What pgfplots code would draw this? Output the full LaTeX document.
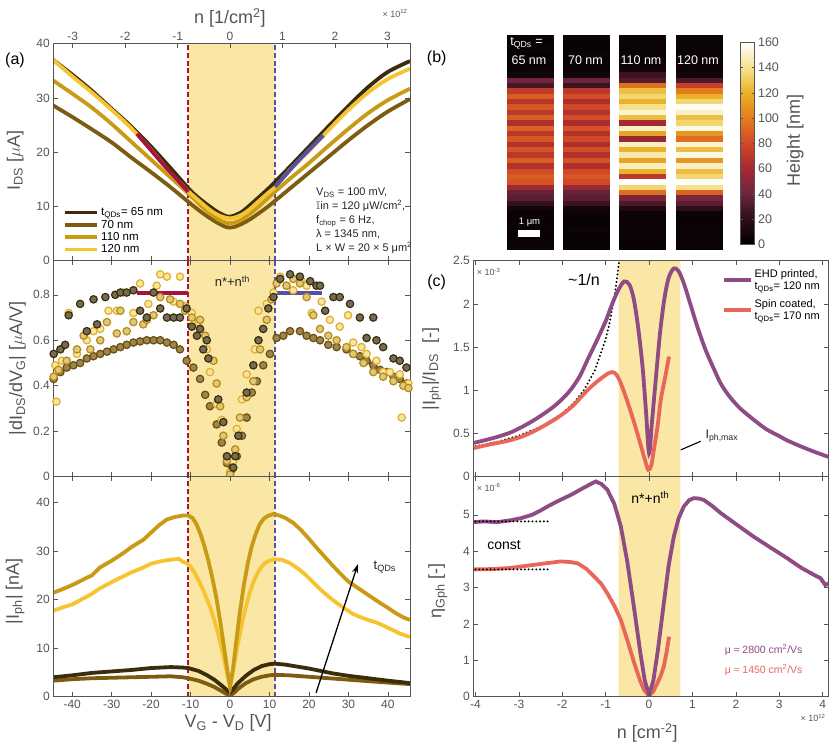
\documentclass[border=0pt]{standalone}
\usepackage{fontspec}
\setmainfont{Liberation Sans}
\usepackage{amssymb}
\usepackage{pgfplots}
\pgfplotsset{compat=1.18}
\usepackage{pgfplotstable}
\usetikzlibrary{arrows.meta}
\definecolor{cA}{HTML}{3B2D0C}
\definecolor{cB}{HTML}{7D5C12}
\definecolor{cC}{HTML}{C99A14}
\definecolor{cD}{HTML}{F7C431}
\definecolor{band}{HTML}{FAE7A5}
\definecolor{dred}{HTML}{A8123E}
\definecolor{dblue}{HTML}{5850A6}
\definecolor{ehd}{HTML}{8E4B84}
\definecolor{spin}{HTML}{E8675A}
\definecolor{axgray}{HTML}{555555}

\pgfplotsset{
  base/.style={
    scale only axis, anchor=south west, axis on top,
    axis line style={draw=axgray, line width=0.6pt},
    every tick/.style={draw=axgray, line width=0.6pt},
    major tick length=4.5pt, tick align=inside,
    tick label style={font=\fontsize{12}{13}\selectfont, text=axgray},
    label style={font=\fontsize{18}{20}\selectfont, text=axgray},
    /pgf/number format/assume math mode=true,
  },
  mk/.style 2 args={only marks, mark=*, mark size=3.7pt, mark options={draw=#1, fill=#2, line width=1.2pt}},
  ln/.style={line width=3.8pt, #1},
  vdash/.style={#1, line width=2.4pt, dash pattern=on 5pt off 2.8pt},
}

\pgfplotstableread{
r z1 z2 z3 z4
39 4 5 4 5
38 3 4 5 4
37 5 3 4 5
36 3 5 5 4
35 4 4 4 6
34 3 4 6 5
33 5 5 8 6
32 8 8 25 8
31 42 40 32 30
30 28 25 95 75
29 72 70 125 100
28 88 82 135 120
27 68 64 120 135
26 86 80 140 158
25 70 66 152 150
24 88 82 125 125
23 64 62 60 135
22 90 84 150 155
21 70 66 115 110
20 86 80 55 95
19 66 64 150 152
18 84 82 120 125
17 70 66 145 155
16 88 84 115 110
15 66 64 148 150
14 82 80 120 125
13 88 86 70 135
12 84 80 160 160
11 58 55 135 140
10 38 38 95 90
9 35 35 45 45
8 22 25 30 35
7 8 8 15 20
6 4 5 5 5
5 3 4 4 4
4 5 3 5 4
3 4 5 4 5
2 3 4 5 4
1 4 3 4 5
0 5 4 4 4
}\afm

\begin{document}
\begin{tikzpicture}
\useasboundingbox (0,0) rectangle (831pt,746pt);

% ================= (a) top: I_DS =================
\begin{axis}[base, at={(53.3pt,485.3pt)}, width=356.7pt, height=217pt,
  xmin=-44.8, xmax=45.6, ymin=0, ymax=40,
  xtick={-40,-30,...,40}, xticklabels={}, xtick pos=left,
  ytick={0,10,20,30,40},
  ylabel={I\textsubscript{DS} [$\mu$A]},
  ylabel style={at={(axis description cs:-0.107,0.46)}, anchor=center},
  legend style={at={(0.025,0.015)}, anchor=south west, draw=none, fill=none,
    font=\fontsize{11.5}{12}\selectfont, row sep=-1.2pt, inner sep=1pt},
  legend cell align=left,
  legend image code/.code={\draw[#1] (0pt,0pt) -- (32pt,0pt);},
]
\addplot[fill=band, draw=none, forget plot] coordinates {(-10.6,0) (11.4,0) (11.4,40) (-10.6,40)} \closedcycle;
\addplot[vdash=dred, forget plot] coordinates {(-10.6,0) (-10.6,40)};
\addplot[vdash=dblue, forget plot] coordinates {(11.4,0) (11.4,40)};
\addplot[ln=cA, smooth] coordinates {(-44.8,37.0) (-40,34.3) (-35,31.3) (-30,28.0) (-25,24.7) (-20,21.0) (-15,17.0) (-10,12.9) (-7,11.0) (-5,9.9) (-3,8.9) (-1,8.2) (0,8.1) (1,8.3) (3,9.0) (5,10.2) (7,11.5) (10,13.5) (15,17.2) (20,21.0) (25,24.8) (30,28.5) (35,32.0) (40,34.8) (45.6,36.8)};
\addplot[ln=cB, smooth] coordinates {(-44.8,28.6) (-40,26.5) (-35,24.2) (-30,21.8) (-25,19.0) (-20,16.3) (-15,13.5) (-10,10.5) (-7,8.8) (-5,7.8) (-3,6.9) (-1,6.2) (0,6.1) (1,6.2) (3,6.8) (5,7.6) (7,8.6) (10,10.2) (15,13.2) (20,16.2) (25,19.2) (30,22.2) (35,25.0) (40,27.5) (45.6,29.8)};
\addplot[ln=cC, smooth] coordinates {(-44.8,33.2) (-40,30.8) (-35,28.2) (-30,25.2) (-25,21.9) (-20,18.6) (-15,15.3) (-10,12.0) (-7,9.9) (-5,8.7) (-3,7.6) (-1,7.0) (0,6.9) (1,7.0) (3,7.6) (5,8.6) (7,9.8) (10,11.8) (15,15.0) (20,18.0) (25,21.2) (30,24.3) (35,27.2) (40,29.6) (45.6,31.7)};
\addplot[ln=cD, smooth] coordinates {(-44.8,37.0) (-40,34.0) (-35,31.0) (-30,27.8) (-25,24.4) (-20,20.4) (-15,16.1) (-11,13.1) (-10,12.4) (-7,10.5) (-5,9.3) (-3,8.4) (-1,7.9) (0,7.8) (1,7.9) (3,8.5) (5,9.5) (7,10.8) (10,12.7) (11.4,13.5) (15,16.6) (20,20.2) (25,24.1) (30,27.8) (35,31.0) (40,33.5) (45.6,35.4)};
\addplot[dred, line width=3.8pt, forget plot] coordinates {(-23.6,23.4) (-17,17.8) (-10.6,12.7)};
\addplot[dblue, line width=3.8pt, forget plot] coordinates {(11.4,13.6) (17,18.2) (23.6,23.1)};
\addlegendentry{t\textsubscript{QDs}= 65 nm}
\addlegendentry{70 nm}
\addlegendentry{110 nm}
\addlegendentry{120 nm}
\end{axis}
% top n axis
\begin{axis}[base, at={(53.3pt,485.3pt)}, width=356.7pt, height=217pt,
  xmin=-3.37, xmax=3.43, ymin=0, ymax=40,
  axis x line*=top, axis y line=none, tick align=inside,
  xtick={-3,-2,-1,0,1,2,3},
  xlabel={n [1/cm\textsuperscript{2}]},
  xlabel style={at={(axis description cs:0.495,1.118)}, anchor=center},
]
\addplot[draw=none] coordinates {(0,0)};
\end{axis}

% ================= (a) middle: dI/dV =================
\begin{axis}[base, at={(53.3pt,269.3pt)}, width=356.7pt, height=216pt,
  xmin=-44.8, xmax=45.6, ymin=0, ymax=0.95,
  xtick={-40,-30,...,40}, xticklabels={},
  ytick={0,0.2,0.4,0.6,0.8}, yticklabels={0,0.2,0.4,0.6,0.8},
  ylabel={|dI\textsubscript{DS}/dV\textsubscript{G}| [$\mu$A/V]},
  ylabel style={at={(axis description cs:-0.1,0.5)}, anchor=center},
]
\addplot[fill=band, draw=none] coordinates {(-10.6,0) (11.4,0) (11.4,0.95) (-10.6,0.95)} \closedcycle;
\addplot[vdash=dred] coordinates {(-10.6,0) (-10.6,0.95)};
\addplot[vdash=dblue] coordinates {(11.4,0) (11.4,0.95)};
\addplot[mk={cB!85!black}{cB!75!white}] coordinates {(-44.7,0.43) (-43.0,0.46) (-41.4,0.48) (-39.7,0.49) (-38.0,0.50) (-36.3,0.52) (-34.6,0.53) (-32.9,0.54) (-31.2,0.55) (-29.5,0.56) (-27.8,0.57) (-26.2,0.58) (-24.5,0.59) (-22.8,0.595) (-21.1,0.60) (-19.4,0.60) (-17.7,0.60) (-16.0,0.59) (-14.3,0.58) (-12.7,0.56) (-11.0,0.51) (-9.3,0.48) (-7.6,0.43) (-6.3,0.36) (-5.1,0.31) (-3.4,0.23) (-2.1,0.15) (-0.8,0.06) (0.4,0.03) (1.7,0.09) (3.0,0.18) (4.2,0.26) (5.5,0.37) (6.8,0.42) (8.4,0.49) (10.1,0.54) (11.8,0.61) (13.5,0.62) (15.2,0.64) (17.7,0.64) (19.4,0.62) (21.1,0.61) (22.8,0.60) (24.9,0.58) (27.0,0.57) (29.5,0.56) (31.2,0.54) (32.9,0.53) (34.6,0.51) (36.3,0.49) (38.0,0.47) (39.7,0.46) (41.4,0.44) (43.0,0.43) (44.7,0.41)};
\addplot[mk={cD!90!black}{cD!45!white}] coordinates {(-44.0,0.33) (-44.3,0.49) (-42.6,0.51) (-40.9,0.72) (-38.8,0.54) (-36.3,0.60) (-34.6,0.64) (-32.9,0.65) (-30.8,0.73) (-28.7,0.73) (-27.0,0.81) (-24.5,0.72) (-22.8,0.85) (-20.7,0.76) (-18.6,0.84) (-17.7,0.89) (-16.0,0.88) (-14.3,0.77) (-12.7,0.88) (-11.4,0.75) (-9.7,0.72) (-8.0,0.68) (-5.9,0.56) (-5.1,0.46) (-3.4,0.32) (-2.1,0.25) (-0.8,0.07) (0,0.02) (0.8,0.07) (1.7,0.21) (3.0,0.34) (4.2,0.45) (6.3,0.56) (7.2,0.73) (9.3,0.76) (11.0,0.81) (12.7,0.88) (14.3,0.84) (16.0,0.82) (18.1,0.86) (19.4,0.84) (20.7,0.72) (23.2,0.77) (25.3,0.69) (27.8,0.66) (29.9,0.71) (31.2,0.59) (33.3,0.57) (34.6,0.54) (37.1,0.51) (38.8,0.46) (40.5,0.46) (43.0,0.45) (43.5,0.26) (45.2,0.41)};
\addplot[mk={cC!90!black}{cC!55!white}] coordinates {(-44.7,0.44) (-43.5,0.47) (-41.4,0.51) (-38.8,0.56) (-37.1,0.62) (-35.4,0.56) (-32.9,0.60) (-31.2,0.68) (-28.7,0.63) (-27.8,0.73) (-26.2,0.64) (-24.5,0.68) (-22.0,0.67) (-21.1,0.69) (-19.4,0.71) (-17.7,0.79) (-15.2,0.78) (-12.7,0.76) (-11.4,0.73) (-9.7,0.70) (-7.6,0.69) (-6.3,0.62) (-4.2,0.51) (-3.4,0.41) (-2.5,0.31) (-1.7,0.18) (-0.8,0.07) (0,0.01) (1.3,0.12) (2.5,0.26) (4.2,0.35) (5.9,0.42) (7.6,0.56) (9.3,0.69) (10.5,0.78) (11.8,0.85) (14.3,0.84) (16.0,0.87) (17.7,0.85) (19.4,0.79) (21.1,0.71) (22.8,0.65) (24.9,0.62) (27.0,0.60) (29.5,0.57) (31.2,0.54) (33.8,0.50) (36.3,0.46) (38.8,0.44) (41.4,0.42) (43.9,0.40) (45.2,0.39)};
\addplot[mk={cA}{cA!70!white}] coordinates {(-44.7,0.54) (-43.0,0.56) (-41.8,0.58) (-40.9,0.71) (-38.0,0.76) (-36.3,0.64) (-34.6,0.78) (-33.7,0.67) (-31.6,0.79) (-29.1,0.80) (-27.8,0.81) (-26.2,0.81) (-24.5,0.82) (-22.8,0.73) (-21.1,0.70) (-19.4,0.81) (-17.7,0.74) (-16.0,0.70) (-14.3,0.70) (-12.7,0.70) (-11.0,0.74) (-9.7,0.66) (-8.4,0.62) (-7.6,0.65) (-6.8,0.56) (-5.9,0.60) (-5.5,0.52) (-3.0,0.34) (-1.7,0.24) (-0.8,0.09) (0.8,0.04) (1.3,0.09) (2.1,0.18) (4.2,0.37) (5.9,0.49) (7.2,0.60) (8.4,0.65) (9.7,0.74) (11.0,0.79) (12.7,0.87) (15.2,0.89) (17.7,0.88) (20.3,0.86) (21.9,0.84) (22.8,0.84) (24.1,0.73) (26.2,0.79) (27.8,0.79) (30.4,0.76) (32.9,0.70) (34.6,0.61) (36.3,0.70) (37.1,0.60) (38.8,0.57) (41.4,0.52) (43.0,0.51) (44.7,0.48)};
\addplot[dred, line width=3.8pt] coordinates {(-23.6,0.807) (-10.6,0.807)};
\addplot[dblue, line width=3.8pt] coordinates {(11.4,0.807) (23.4,0.807)};
\node[font=\fontsize{13}{14}\selectfont, text=black!85] at (axis cs:0.6,0.86) {n*+n\textsuperscript{th}};
\end{axis}

% ================= (a) bottom: Iph =================
\begin{axis}[base, at={(53.3pt,49.3pt)}, width=356.7pt, height=220pt,
  xmin=-44.8, xmax=45.6, ymin=0, ymax=45.3,
  xtick={-40,-30,...,40}, ytick={0,10,20,30,40},
  xlabel={V\textsubscript{G} - V\textsubscript{D} [V]},
  xlabel style={at={(axis description cs:0.49,-0.12)}, anchor=center},
  ylabel={|I\textsubscript{ph}| [nA]},
  ylabel style={at={(axis description cs:-0.107,0.48)}, anchor=center},
]
\addplot[fill=band, draw=none] coordinates {(-10.6,0) (11.4,0) (11.4,45.3) (-10.6,45.3)} \closedcycle;
\addplot[vdash=dred] coordinates {(-10.6,0) (-10.6,45.3)};
\addplot[vdash=dblue] coordinates {(11.4,0) (11.4,45.3)};
\addplot[ln=cB] coordinates {(-44.8,3.3) (-40,3.6) (-35,3.8) (-30,3.9) (-25,4.0) (-20,4.1) (-15,4.2) (-12,4.0) (-10.6,3.8) (-8,3.3) (-6,2.7) (-4,2.0) (-2,1.1) (-1,0.6) (0,0.2) (1,0.8) (2,1.6) (4,2.8) (6,3.6) (8,4.1) (10,4.4) (11.4,4.5) (15,4.4) (20,4.1) (25,3.8) (30,3.5) (35,3.2) (40,2.9) (45.6,2.6)};
\addplot[ln=cA] coordinates {(-44.8,4.0) (-40,4.4) (-35,4.9) (-30,5.2) (-25,5.5) (-20,5.9) (-15,6.1) (-12,6.0) (-10.6,5.9) (-8,5.3) (-6,4.5) (-4,3.5) (-2,2.2) (-1,1.5) (0,0.8) (1,1.8) (2,2.8) (4,4.3) (6,5.5) (8,6.3) (10,6.7) (11.4,6.8) (14,6.6) (17,6.2) (20,5.8) (23,5.3) (26,4.8) (30,4.3) (35,3.8) (40,3.3) (45.6,2.8)};
\addplot[ln=cD] coordinates {(-44.8,17.7) (-42,18.5) (-40,19.0) (-37,20.3) (-35,21.2) (-33,22.3) (-30,23.6) (-27,24.8) (-25,25.6) (-22,26.6) (-20,27.4) (-18,27.8) (-16,28.1) (-14,28.3) (-13,28.4) (-12,27.8) (-11,27.5) (-10,26.8) (-9,25.5) (-8,24.0) (-7,22.3) (-6,20.3) (-5,18.3) (-4,15.8) (-3,12.8) (-2,9.5) (-1,5.8) (-0.4,3.5) (0,2.5) (0.4,3.5) (1,6.5) (2,11.0) (3,15.0) (4,18.5) (5,21.5) (6,23.8) (7,25.5) (8,26.8) (9,27.6) (10,28.0) (11.4,28.3) (13,28.2) (15,27.6) (17,26.5) (19,25.2) (21,23.6) (23,22.0) (25,20.6) (27,19.3) (29,18.2) (31,17.1) (33,16.4) (35,15.8) (37,15.3) (39,14.6) (41,13.8) (43,13.0) (45.6,12.3)};
\addplot[ln=cC] coordinates {(-44.8,21.4) (-42,22.3) (-40,23.0) (-37,24.2) (-35,25.0) (-33,26.6) (-30,28.0) (-27,29.6) (-25,30.8) (-22,32.3) (-20,33.8) (-18,35.3) (-16,36.5) (-14,37.0) (-12,37.3) (-10.6,37.3) (-9.5,36.8) (-8.5,35.5) (-7.5,33.5) (-6.5,31.0) (-5.5,28.0) (-4.5,24.5) (-3.5,20.5) (-2.5,15.5) (-1.5,10.0) (-0.8,6.0) (0,2.0) (0.8,6.0) (1.5,11.0) (2.5,17.5) (3.5,23.0) (4.5,27.5) (5.5,31.0) (6.5,33.5) (7.5,35.5) (8.5,36.6) (9.5,37.2) (11,37.6) (12.5,37.3) (14,36.8) (16,35.8) (18,34.3) (20,32.5) (22,30.6) (24,28.8) (26,27.0) (28,25.3) (30,23.7) (32,22.6) (34,21.5) (36,20.4) (38,19.3) (40,18.3) (42,17.2) (44,16.3) (45.6,15.8)};
\draw[-{Stealth[length=9pt,width=6pt]}, line width=1.3pt] (axis cs:21.8,0.8) -- (axis cs:32.4,27.3);
\node[anchor=west, font=\fontsize{13}{14}\selectfont, text=black!85] at (axis cs:35.5,26.6) {t\textsubscript{QDs}};
\end{axis}

% ================= (b) AFM images =================
\begin{axis}[scale only axis, anchor=south west, at={(506.7pt,497pt)}, width=214.3pt, height=214pt,
  xmin=0, xmax=214.3, ymin=-0.5, ymax=39.5, xtick=\empty, ytick=\empty,
  axis line style={draw=none}, clip=false,
  colormap={afm}{rgb255=(0,0,0) rgb255=(45,14,22) rgb255=(108,36,62) rgb255=(165,42,48) rgb255=(208,72,38) rgb255=(228,124,30) rgb255=(234,178,40) rgb255=(246,226,142) rgb255=(255,255,255)},
  point meta min=0, point meta max=160,
  colorbar,
  colorbar style={at={(parent axis.north east)}, anchor=north west, xshift=10.7pt, yshift=-7.3pt,
    scale only axis, width=14.3pt, height=202pt, y dir=normal,
    axis line style={draw=axgray, line width=0.5pt},
    ytick={0,20,40,60,80,100,120,140,160}, yticklabel pos=right,
    every tick/.style={draw=axgray, line width=0.5pt}, major tick length=3pt,
    yticklabel style={font=\fontsize{12.5}{13}\selectfont, text=axgray},
    /pgf/number format/assume math mode=true,
    ylabel={Height [nm]}, ylabel style={font=\fontsize{18}{20}\selectfont, text=axgray, at={(axis description cs:3.85,0.516)}, anchor=center, rotate=0},
  },
]
\addplot[scatter, only marks, mark=square*, scatter src=explicit, mark size=2.8pt, mark options={xscale=8.2, line width=0.2pt}, scatter/use mapped color={draw=mapped color, fill=mapped color}] table[x expr=23, y=r, meta=z1] {\afm};
\addplot[scatter, only marks, mark=square*, scatter src=explicit, mark size=2.8pt, mark options={xscale=8.2, line width=0.2pt}, scatter/use mapped color={draw=mapped color, fill=mapped color}] table[x expr=79.5, y=r, meta=z2] {\afm};
\addplot[scatter, only marks, mark=square*, scatter src=explicit, mark size=2.8pt, mark options={xscale=8.2, line width=0.2pt}, scatter/use mapped color={draw=mapped color, fill=mapped color}] table[x expr=135, y=r, meta=z3] {\afm};
\addplot[scatter, only marks, mark=square*, scatter src=explicit, mark size=2.8pt, mark options={xscale=8.2, line width=0.2pt}, scatter/use mapped color={draw=mapped color, fill=mapped color}] table[x expr=192, y=r, meta=z4] {\afm};
\end{axis}
\node[text=white, font=\fontsize{12.5}{13}\selectfont] at (526.5pt,703pt) {t\textsubscript{QDs} =};
\node[text=white, font=\fontsize{12.5}{13}\selectfont] at (529pt,685.3pt) {65 nm};
\node[text=white, font=\fontsize{12.5}{13}\selectfont] at (585.5pt,685.3pt) {70 nm};
\node[text=white, font=\fontsize{12.5}{13}\selectfont] at (641pt,685.3pt) {110 nm};
\node[text=white, font=\fontsize{12.5}{13}\selectfont] at (698pt,685.3pt) {120 nm};
\fill[white] (518.3pt,509.3pt) rectangle (540pt,516pt);
\node[text=white, font=\fontsize{9.5}{10}\selectfont] at (529.5pt,523.7pt) {1 μm};

% ================= (c) top =================
\begin{axis}[base, at={(473.3pt,269.3pt)}, width=355pt, height=216pt,
  xmin=-4.05, xmax=4.13, ymin=0, ymax=2.5,
  xtick={-4,-3,...,4}, xticklabels={},
  ytick={0,0.5,1,1.5,2,2.5}, yticklabels={0,0.5,1,1.5,2,2.5},
  ylabel={|I\textsubscript{ph}|/I\textsubscript{DS}\ \ [-]},
  ylabel style={at={(axis description cs:-0.117,0.5)}, anchor=center},
  legend style={at={(0.985,0.975)}, anchor=north east, draw=none, fill=none,
    font=\fontsize{11}{12.5}\selectfont, cells={align=left}, row sep=4pt, inner sep=1pt},
  legend cell align=left,
  legend image code/.code={\draw[#1] (0pt,0pt) -- (27pt,0pt);},
]
\addplot[fill=band, draw=none, forget plot] coordinates {(-0.7,0) (0.72,0) (0.72,2.5) (-0.7,2.5)} \closedcycle;
\addplot[black, line width=2.2pt, line cap=round, dash pattern=on 0pt off 3.8pt, forget plot] coordinates {(-4.0,0.352) (-3.5,0.404) (-3.0,0.475) (-2.5,0.576) (-2.0,0.732) (-1.75,0.846) (-1.5,1.002) (-1.25,1.230) (-1.0,1.590) (-0.9,1.802) (-0.8,2.078) (-0.75,2.251) (-0.7,2.455) (-0.69,2.50) (-0.68,2.55)};
\addplot[ln=ehd, smooth] coordinates {(-4.05,0.39) (-3.8,0.42) (-3.5,0.46) (-3.2,0.51) (-2.95,0.57) (-2.7,0.64) (-2.45,0.72) (-2.2,0.81) (-2.0,0.90) (-1.8,1.01) (-1.6,1.16) (-1.42,1.35) (-1.2,1.58) (-1.0,1.80) (-0.85,2.00) (-0.7,2.17) (-0.57,2.26) (-0.45,2.22) (-0.35,2.05) (-0.25,1.72) (-0.15,1.27) (-0.07,0.75) (0,0.27) (0.07,0.65) (0.15,1.10) (0.25,1.65) (0.35,2.05) (0.45,2.30) (0.57,2.41) (0.68,2.38) (0.8,2.24) (0.95,2.00) (1.11,1.74) (1.3,1.47) (1.5,1.24) (1.65,1.08) (1.85,0.93) (2.1,0.79) (2.41,0.66) (2.7,0.55) (3.0,0.47) (3.18,0.42) (3.5,0.35) (3.8,0.29) (4.13,0.23)};
\addlegendentry{EHD printed,\\t\textsubscript{QDs}= 120 nm}
\addplot[ln=spin, smooth] coordinates {(-4.05,0.33) (-3.7,0.37) (-3.3,0.41) (-2.95,0.46) (-2.6,0.54) (-2.18,0.66) (-1.8,0.80) (-1.42,1.00) (-1.2,1.10) (-0.96,1.19) (-0.84,1.21) (-0.75,1.18) (-0.65,1.08) (-0.5,0.87) (-0.34,0.62) (-0.2,0.38) (-0.11,0.22) (-0.02,0.08) (0.05,0.13) (0.11,0.31) (0.2,0.6) (0.27,0.89) (0.37,1.15) (0.46,1.39)};
\addlegendentry{Spin coated,\\t\textsubscript{QDs}= 170 nm}
\draw[black, line width=1.1pt] (axis cs:0.73,0.31) -- (axis cs:1.19,0.41);
\node[anchor=west, font=\fontsize{12.5}{13}\selectfont, text=black!85] at (axis cs:1.22,0.47) {I\textsubscript{ph,max}};
\node[font=\fontsize{16}{17}\selectfont, text=black] at (axis cs:-1.5,2.28) {\textasciitilde1/n};
\node[anchor=west, font=\fontsize{9}{10}\selectfont, text=axgray] at (axis cs:-4.05,2.37) {× 10\textsuperscript{-3}};
\end{axis}

% ================= (c) bottom =================
\begin{axis}[base, at={(473.3pt,49.3pt)}, width=355pt, height=220pt,
  xmin=-4.05, xmax=4.13, ymin=0, ymax=6.05,
  xtick={-4,-3,...,4}, ytick={0,1,2,3,4,5},
  xlabel={n [cm\textsuperscript{-2}]},
  xlabel style={at={(axis description cs:0.49,-0.165)}, anchor=center},
  ylabel={η\textsubscript{Gph} [-]},
  ylabel style={at={(axis description cs:-0.1,0.48)}, anchor=center},
]
\addplot[fill=band, draw=none] coordinates {(-0.7,0) (0.72,0) (0.72,6.05) (-0.7,6.05)} \closedcycle;
\addplot[ln=spin] coordinates {(-4.05,3.50) (-3.6,3.51) (-3.2,3.54) (-2.95,3.58) (-2.5,3.65) (-2.03,3.72) (-1.8,3.70) (-1.65,3.67) (-1.45,3.52) (-1.26,3.30) (-1.1,3.10) (-0.96,2.84) (-0.8,2.50) (-0.65,2.11) (-0.5,1.55) (-0.34,0.92) (-0.2,0.42) (-0.11,0.18) (0,0.02) (0.1,0.15) (0.19,0.37) (0.27,0.58) (0.34,0.83) (0.40,1.20) (0.46,1.65)};
\addplot[ln=ehd] coordinates {(-4.05,4.80) (-3.8,4.82) (-3.5,4.80) (-3.2,4.85) (-2.95,4.91) (-2.7,5.00) (-2.5,5.12) (-2.34,5.23) (-2.1,5.38) (-1.8,5.55) (-1.5,5.75) (-1.23,5.92) (-1.1,5.85) (-0.96,5.69) (-0.8,5.30) (-0.65,4.68) (-0.5,3.70) (-0.34,2.39) (-0.2,1.20) (-0.1,0.45) (0,0.05) (0.1,0.45) (0.2,1.25) (0.34,2.57) (0.45,3.60) (0.57,4.40) (0.68,4.90) (0.8,5.23) (0.92,5.40) (1.03,5.46) (1.15,5.45) (1.26,5.41) (1.45,5.25) (1.65,5.05) (2.0,4.75) (2.41,4.40) (2.8,4.10) (3.18,3.81) (3.5,3.55) (3.8,3.35) (3.95,3.26) (4.06,3.07) (4.13,3.12)};
\addplot[black, line width=2.2pt, line cap=round, dash pattern=on 0pt off 3.8pt] coordinates {(-4.0,4.82) (-2.3,4.82)};
\addplot[black, line width=2.2pt, line cap=round, dash pattern=on 0pt off 3.8pt] coordinates {(-4.0,3.5) (-2.3,3.5)};
\node[font=\fontsize{14}{15}\selectfont, text=black] at (axis cs:-3.34,4.17) {const};
\node[font=\fontsize{14}{15}\selectfont, text=black] at (axis cs:0.03,5.47) {n*+n\textsuperscript{th}};
\node[font=\fontsize{10.5}{11}\selectfont, text=ehd] at (axis cs:2.64,1.28) {μ ≈ 2800 cm\textsuperscript{2}/Vs};
\node[font=\fontsize{10.5}{11}\selectfont, text=spin] at (axis cs:2.64,0.73) {μ ≈ 1450 cm\textsuperscript{2}/Vs};
\node[anchor=west, font=\fontsize{9}{10}\selectfont, text=axgray] at (axis cs:-4.05,5.75) {× 10\textsuperscript{-6}};
\end{axis}

% annotations
\node[anchor=north west, align=left, inner sep=0pt, font=\fontsize{11}{14}\selectfont, text=black!85] at (316pt,558.5pt)
 {V\textsubscript{DS} = 100 mV,\\ $\mathbb{I}$in = 120 μW/cm\textsuperscript{2},\\ f\textsubscript{chop} = 6 Hz,\\ λ = 1345 nm,\\ L × W = 20 × 5 μm\textsuperscript{2}};
\node[anchor=east, font=\fontsize{9}{10}\selectfont, text=axgray] at (411pt,732.5pt) {× 10\textsuperscript{12}};
\node[anchor=east, font=\fontsize{9}{10}\selectfont, text=axgray] at (829pt,28pt) {× 10\textsuperscript{12}};
\node[font=\fontsize{16}{17}\selectfont] at (15pt,685.5pt) {(a)};
\node[font=\fontsize{16}{17}\selectfont] at (436.7pt,687.7pt) {(b)};
\node[font=\fontsize{16}{17}\selectfont] at (436.7pt,463.5pt) {(c)};
\end{tikzpicture}
\end{document}
